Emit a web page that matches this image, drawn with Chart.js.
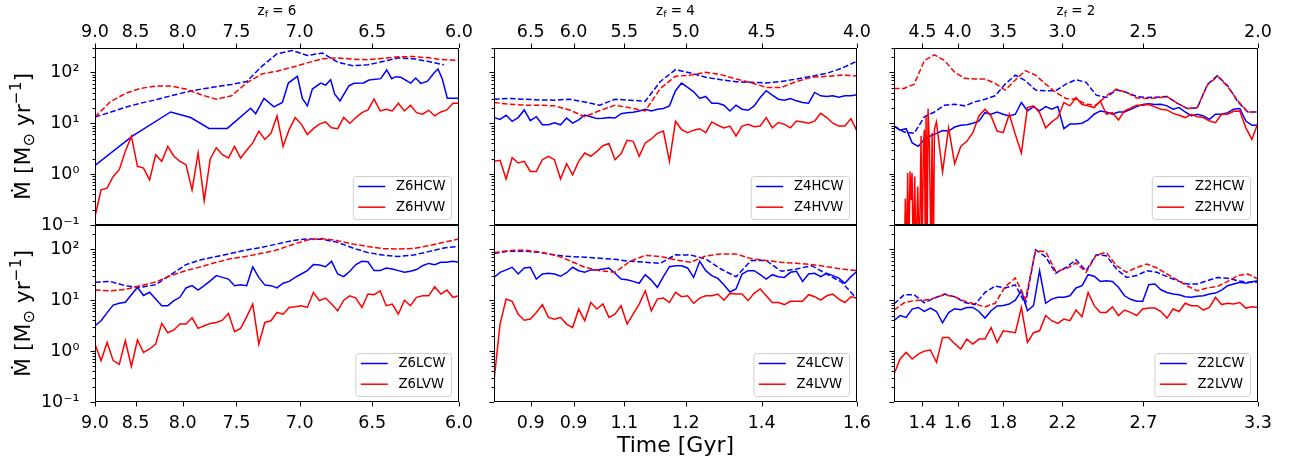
<!DOCTYPE html>
<html>
<head>
<meta charset="utf-8">
<script src="https://cdn.jsdelivr.net/npm/chart.js@4.4.0/dist/chart.umd.min.js"></script>
<style>
  body { margin: 0; background: #fff; }
  #fig { position: relative; width: 1291px; height: 466px; }
  #fig canvas { position: absolute; left: 0; top: 0; }
</style>
</head>
<body>
<div id="fig"></div>
<script>
// ---- axes (time in Gyr, linear; redshift labels on top) ----
const timeRange = [[0.547, 0.933], [0.762, 1.542], [1.172, 3.284]];
const tickTimes = [
  [0.547, 0.590, 0.640, 0.697, 0.764, 0.841, 0.933],
  [0.841, 0.933, 1.042, 1.174, 1.337, 1.542],
  [1.337, 1.542, 1.805, 2.149, 2.619, 3.284]
];
const zLabels = [
  ['9.0', '8.5', '8.0', '7.5', '7.0', '6.5', '6.0'],
  ['6.5', '6.0', '5.5', '5.0', '4.5', '4.0'],
  ['4.5', '4.0', '3.5', '3.0', '2.5', '2.0']
];
const bottomLabels = [
  ['9.0', '8.5', '8.0', '7.5', '7.0', '6.5', '6.0'],
  ['0.9', '0.9', '1.1', '1.2', '1.4', '1.6'],
  ['1.4', '1.6', '1.8', '2.2', '2.7', '3.3']
];
const zForm = ['6', '4', '2'];
const yTicks = [0.1, 1, 10, 100];
const yTickLabels = ['10\u207B\u00B9', '10\u2070', '10\u00B9', '10\u00B2'];

// ---- z_f = 6 ----
const Z6HCW_t = [0.547,0.5866,0.6272,0.6485,0.6679,0.6873,0.7121,0.7174,0.7262,0.7368,0.7457,0.7520,0.7616,0.7669,0.7722,0.7775,0.7863,0.7916,0.7969,0.8012,0.8068,0.8164,0.8217,0.8316,0.8376,0.8500,0.8563,0.8616,0.8659,0.8712,0.8818,0.8871,0.8924,0.8994,0.9065,0.9107,0.9153,0.9206,0.933];
const Z6HCW = [1.48,5.57,16.6,12.9,7.9,7.9,19.7,15.4,30.6,20.9,25.5,61.5,83.4,30.6,21.9,46.8,61.5,56.1,71.6,37.2,27.5,54.5,60.6,61.5,70.5,75,111,75,82,79.6,61.5,77.3,60.6,66.3,97,116,73.8,31,31];
const Z6HVW = [0.145,0.49,0.53,0.9,1.22,2.8,5.5,1.42,1.31,0.77,2.4,1.78,3.5,2.24,1.78,1.53,0.49,2.6,0.3,2.0,3.3,2.4,2.07,3.5,2.07,2.95,4.1,7.0,4.8,6.3,13.9,3.5,7.5,12.9,9.6,6.0,7.8,9.6,10.6,8.1,7.8,12.9,10,12.9,16.1,18.2,29.6,17.4,18.8,17.4,24.7,17.4,22.5,16.1,15,17.9,13.9,16.6,18.2,24.7,24.7];
const Z6HCW_dash = [13.2,16.4,20.6,24.7,28.8,34.5,40.8,46.8,52,57.8,66,131,231,269,214,238,158,135,140,163,192,184,163,140,null];
const Z6HVW_dash = [13.2,26.2,38.4,48.2,53.6,53.6,46.8,36.1,29.6,34.5,62,92.7,105,126,153,184,192,181,177,189,201,204,192,177,170];
const Z6LCW = [3.15,3.95,5.7,8.0,8.7,9.1,12.8,17.9,12.4,14.3,10.5,7.8,7.8,9.8,11.4,17.4,19.3,15.8,19.3,24,30.4,28.1,26,19.3,20.2,19.3,45,28.1,19.8,19.3,17.4,21.5,23.4,28.1,32.7,38.1,50,49.3,45.5,58,32.7,29,37,50,58,57,38.1,38.1,43,41,38.1,35.3,37,40,47.6,52.8,50,55.6,55.6,58,55.6];
const Z6LVW = [1.37,0.65,1.48,0.65,0.55,1.6,0.5,1.65,0.94,1.1,1.37,3.5,2.3,2.6,3.4,3.4,4.5,2.8,3.15,3.5,3.65,4.05,5.5,2.4,2.8,4.7,8.4,1.37,3.65,3.95,5.75,5.3,7.2,7.4,7.8,7.2,14.2,9.8,11,8.4,6.2,10,12.2,11,7.2,13.2,12.8,15.3,7.8,8.4,5.3,10,7.8,11.4,12.2,12.2,18.4,13.2,15.8,11.4,12.2];
const Z6LCW_dash = [22.4,23.4,19.2,17.9,20.2,31.7,50,62.5,72,83.5,97,109,127,148,160,157,137,106,86,77,72,77,90,106,114];
const Z6LVW_dash = [15.8,15.3,16.3,19.3,22.7,30.4,38.1,45.5,55.6,65.6,72.8,83.5,97,123,152,163,148,127,113,103,101,104,118,137,160];

// ---- z_f = 4 ----
const Z4HCW = [12.9,11.9,14.3,10.9,12.9,18.2,11.2,13.4,9.3,9.3,10.2,9.3,12.6,10,11.6,14.5,13.4,12.3,12.5,12.9,12.6,15.4,16.1,16.4,17.4,18.8,17.4,18.8,19.4,21.9,43.4,61.5,50.5,41.4,30.6,33.5,24.7,24.7,22.6,17.4,22.6,18.8,17.9,21.9,32,43.4,35.6,29.6,28.3,30.6,27.5,25.5,24.7,40.2,34.5,33.5,34.5,32.5,34.5,34.5,36.1];
const Z4HVW = [1.78,1.86,0.8,2.1,1.65,1.78,1.13,1.13,1.92,2.24,1.92,0.8,1.6,0.97,1.78,2.6,2.24,2.8,3.6,3.98,1.92,2.5,4.6,4.4,2.24,4.1,4.9,6.3,7.0,1.78,10.9,7.5,6.5,7.3,7.8,6.5,10.6,9.1,8.1,8.8,5.6,8.8,9.5,8.5,8.8,12.9,8.1,10.3,9.5,8.1,11,10.6,10,11,15.6,12.9,10,8.8,8.8,12.3,7.0];
const Z4HCW_dash = [29.6,30.6,29.6,28.7,28.3,29.6,26,22.6,29.6,28.3,27,66,113,97,79.6,71.6,65.3,63.4,61.5,66,73.8,83.4,95.5,120,165];
const Z4HVW_dash = [25.5,23.6,22.6,22.6,21.9,18.2,13.4,17.7,22.6,20,17.4,48.2,83.4,88,100,90,73.8,62.5,50.5,50.5,66,79.6,83.4,88,85];
const Z4LCW = [28,35.3,39.4,44.3,32.7,43,44.3,26,32.7,33.8,32.7,29.5,34.7,44.3,38,35.3,39.4,39.4,41,43,33.8,26,25.3,23.4,21.5,31.7,24.8,17.9,29,45.5,47.5,47.5,43,28,58,38,30.4,26.8,20.2,14.5,16.6,32.7,38,38,31.7,26,31.7,29,28,35.3,37,23.4,32.7,33.8,29,33.8,30.4,27.2,21.5,29,37];
const Z4LVW = [0.26,3.4,10.5,9.5,5.3,4.05,4.25,5.75,8.2,4.6,4.25,4.6,3.4,2.9,6.7,3.95,9,6.7,8.4,4.6,5.3,7.8,3.4,5.3,8.4,15.3,6.2,10.5,11,9,14.2,11.7,12.2,8.7,11,12.2,12.2,13.2,10,13.6,13.2,13.2,9.8,13.6,16.6,12.2,9,9,8.2,9.5,9.5,9.5,12.8,11.7,10,12.2,13.2,10.5,9,11.7,11];
const Z4LCW_dash = [83,92,92,87,77,72,70,66.5,63.5,58,55.6,53,78,77,64.5,41,28.9,60,60,37,41,47.6,32.7,22.4,10.6];
const Z4LVW_dash = [86,94,97,88,78,60,44.3,38,35.3,58,76,72,62,55.6,74,81,81,65.6,60,55.6,53,50,45.5,41,38];

// ---- z_f = 2 ----
const Z2HCW = [8.8,7.3,7.8,4.1,3.5,4.8,5.6,6.3,7.2,7.0,8.4,9.1,9.3,10,11,16.1,15,16.6,15,13.9,15,25.5,17.4,21.2,17.4,21.2,18.8,21.2,7.8,9.6,9.6,10,11.6,15,17.4,16.6,15,16.6,16.6,18.8,21.2,23.3,24,23.3,23.6,21.9,18.8,20.3,16.6,13.9,15,13.9,11.9,15,15,16.1,18.8,19.4,11,9.1,9.1];
const Z2HVW_early_t = [1.2321,1.2379,1.2456,1.2514,1.2573,1.2650,1.2708,1.2766,1.2844,1.2921,1.2999,1.3096,1.3193,1.3289,1.3348,1.3425,1.3483,1.3541,1.3580,1.3638,1.3696,1.3774,1.3871,1.3929,1.4006,1.4064];
const Z2HVW_early = [0.02,0.33,0.02,1.05,0.02,1.13,0.31,1.05,0.02,0.9,0.02,0.57,0.02,5.6,0.02,3.5,7.5,0.02,13.9,0.02,19.4,3.5,0.02,6.5,0.02,7.5];
const Z2HVW = [null,null,null,null,null,null,null,10.6,1.1,8.1,1.6,3.5,4.4,6.5,13.9,18.8,13.9,7.0,6.5,15,6.0,2.6,20.3,21.9,16.1,8.1,10.6,12.9,25.5,21.9,32,23.3,21.9,20.3,27.5,15,16.1,11.6,17.4,19.7,22.6,22.6,23.3,20.9,18.8,18.2,15.6,14.3,12.9,15,13.4,12.9,11,10.2,15,15,17.1,17.4,8.1,4.8,10.2];
const Z2HCW_dash = [8.8,6.7,6.3,13.4,16.6,22.6,23.6,21.9,26.2,29.6,34.5,58.7,88,68.5,44.6,43.4,43.4,58.7,71.6,63.4,35.6,32,45.5,40.2,33.5,32,32.5,33.5,24.7,19.4,20,57.8,86,54.5,26.2,16.6,16.6];
const Z2HVW_dash = [48.2,48.2,58.7,170,220,170,100,76,73.8,73.8,60.6,44.6,70.5,108,88,58.7,40.2,30.6,29.6,23.6,22.6,34.5,46.8,40.2,31.4,30.6,31.4,33.5,24.7,19.4,20.3,56.1,83.4,52.5,27.5,16.6,16.6];
const Z2LCW = [3.95,5,4.6,6.7,7.2,6,7,6,3.6,5.7,6.8,6.5,7.2,7.2,6,4.45,6.2,7.7,7.9,8.4,10,15.3,6.2,7.8,38,8.7,10.5,11.4,11.4,12.2,17.4,19.3,31.7,29.5,23.4,24.2,23.4,17.9,12.2,10.4,9.5,9.5,20.2,20.8,16,14.2,13.2,12.8,11.7,11.4,11.9,12.2,13.2,13.8,15.8,19.3,20.8,22.4,21.5,23,24.2];
const Z2LVW = [0.35,0.7,0.94,0.7,0.87,1.0,1.05,0.6,1.86,1.86,1.4,1.1,1.72,1.37,1.72,1.72,2.9,1.48,2.5,2.4,2.3,7.2,1.48,2.3,2.5,5,3.95,3.5,4.25,3.95,6.4,4.75,14.2,7.8,5.75,5.75,7.4,5,6.4,5.75,5,6.7,7,7,6,4.45,6.7,6,8.7,7.8,7.8,6.4,7.2,11.4,8.2,8.7,8.4,9,7,7.4,7.2];
const Z2LCW_dash = [8.4,12.8,12.8,8.9,11,13.2,11.7,9,8.2,14.2,19,17.4,20,8.4,98,71,33.8,44,62,38,78,75,41,28,30.4,38,35.3,29,24.2,20.8,20.8,24.2,28,27,24.2,22.4,22.4];
const Z2LVW_dash = [6.4,8.9,9.8,10,11,12.8,11.7,9.5,8.4,7.4,8.7,18.4,27.3,10.5,94,90,37,41,54,35.3,77,87,47.6,35.3,44,51.5,43,32.7,25,19,15.3,17.4,18.7,23.4,30.4,32.7,26];

// values sampled evenly across the panel's time range
function onGrid(values, range) {
  const n = values.length, pts = [];
  values.forEach((v, i) => {
    if (v !== null) pts.push({ x: range[0] + (range[1] - range[0]) * i / (n - 1), y: v });
  });
  return pts;
}
function paired(times, values) {
  return times.map((t, i) => ({ x: t, y: values[i] }));
}

const panels = [
  { row: 0, col: 0, names: ['Z6HCW', 'Z6HVW'], cw: paired(Z6HCW_t, Z6HCW), vw: onGrid(Z6HVW, timeRange[0]), cwd: Z6HCW_dash, vwd: Z6HVW_dash },
  { row: 0, col: 1, names: ['Z4HCW', 'Z4HVW'], cw: onGrid(Z4HCW, timeRange[1]), vw: onGrid(Z4HVW, timeRange[1]), cwd: Z4HCW_dash, vwd: Z4HVW_dash },
  { row: 0, col: 2, names: ['Z2HCW', 'Z2HVW'], cw: onGrid(Z2HCW, timeRange[2]), vw: paired(Z2HVW_early_t, Z2HVW_early).concat(onGrid(Z2HVW, timeRange[2])), cwd: Z2HCW_dash, vwd: Z2HVW_dash },
  { row: 1, col: 0, names: ['Z6LCW', 'Z6LVW'], cw: onGrid(Z6LCW, timeRange[0]), vw: onGrid(Z6LVW, timeRange[0]), cwd: Z6LCW_dash, vwd: Z6LVW_dash },
  { row: 1, col: 1, names: ['Z4LCW', 'Z4LVW'], cw: onGrid(Z4LCW, timeRange[1]), vw: onGrid(Z4LVW, timeRange[1]), cwd: Z4LCW_dash, vwd: Z4LVW_dash },
  { row: 1, col: 2, names: ['Z2LCW', 'Z2LVW'], cw: onGrid(Z2LCW, timeRange[2]), vw: onGrid(Z2LVW, timeRange[2]), cwd: Z2LCW_dash, vwd: Z2LVW_dash }
];

// ---- layout ----
const W = 1291, H = 466;
const colLeft = [95, 494, 894], colRight = [459, 857, 1258];
const rowTop = [48, 225], rowBottom = [225, 402];
const BLUE = '#0000ff', RED = '#ff0000';
const FONT = "'DejaVu Sans', sans-serif";
Chart.defaults.font.family = FONT;
Chart.defaults.color = '#000';

function ds(points, color, dashed) {
  return {
    data: points, borderColor: color, borderWidth: 1.5, pointRadius: 0,
    fill: false, tension: 0, borderDash: dashed ? [5.6, 2.4] : []
  };
}

function drawRich(ctx, pieces, x, y, size) {
  let total = 0;
  pieces.forEach(p => { ctx.font = (size * p.s) + 'px ' + FONT; p.w = ctx.measureText(p.t).width; total += p.w; });
  let cx = x - total / 2;
  ctx.textAlign = 'left';
  ctx.textBaseline = 'alphabetic';
  pieces.forEach(p => {
    ctx.font = (size * p.s) + 'px ' + FONT;
    ctx.fillText(p.t, cx, y + (p.dy || 0) * size);
    cx += p.w;
  });
}

function makeFrame(p) {
  return {
    id: 'frameTicks',
    afterDatasetsDraw(chart) {
      const { ctx, chartArea: a, scales } = chart;
      ctx.save();
      ctx.strokeStyle = '#000';
      ctx.lineWidth = 1;
      ctx.setLineDash([]);
      ctx.strokeRect(a.left + 0.5, a.top + 0.5, a.right - a.left - 1, a.bottom - a.top - 1);
      ctx.beginPath();
      for (let e = -1; e <= 2; e++) {
        for (let m = 1; m <= 9; m++) {
          const v = m * Math.pow(10, e);
          if (v > 300.001) break;
          const y = Math.round(scales.y.getPixelForValue(v)) + 0.5;
          const len = m === 1 ? 4.5 : 2.5;
          ctx.moveTo(a.left, y);
          ctx.lineTo(a.left - len, y);
        }
      }
      const xs = p.row === 0 ? scales.xTop : scales.x;
      tickTimes[p.col].forEach(t => {
        const x = Math.round(xs.getPixelForValue(t)) + 0.5;
        if (p.row === 0) { ctx.moveTo(x, a.top); ctx.lineTo(x, a.top - 4.5); }
        else { ctx.moveTo(x, a.bottom); ctx.lineTo(x, a.bottom + 4.5); }
      });
      ctx.stroke();
      ctx.restore();
    }
  };
}

function makeLegend(p) {
  return {
    id: 'mplLegend',
    afterDraw(chart) {
      const { ctx, chartArea: a } = chart;
      const fs = 13.2;
      ctx.save();
      ctx.font = fs + 'px ' + FONT;
      const tw = Math.max(...p.names.map(n => ctx.measureText(n).width));
      const pad = 5.4, handle = 27, gap = 10.8;
      const bw = pad + handle + gap + tw + pad, bh = 43;
      const bx = a.right - 8 - bw, by = a.bottom - 6 - bh;
      ctx.beginPath();
      ctx.roundRect(bx + 0.5, by + 0.5, bw, bh, 3);
      ctx.fillStyle = 'rgba(255,255,255,0.8)';
      ctx.fill();
      ctx.strokeStyle = '#d0d0d0';
      ctx.lineWidth = 1;
      ctx.stroke();
      [BLUE, RED].forEach((c, i) => {
        const cy = by + 10.5 + i * 20.7;
        ctx.beginPath();
        ctx.strokeStyle = c;
        ctx.lineWidth = 1.5;
        ctx.moveTo(bx + pad, cy);
        ctx.lineTo(bx + pad + handle, cy);
        ctx.stroke();
        ctx.fillStyle = '#000';
        ctx.textAlign = 'left';
        ctx.textBaseline = 'middle';
        ctx.fillText(p.names[i], bx + pad + handle + gap, cy + 0.5);
      });
      ctx.restore();
    }
  };
}

const decor = {
  id: 'decor',
  afterDraw(chart) {
    const ctx = chart.ctx;
    ctx.save();
    ctx.fillStyle = '#000';
    for (let c = 0; c < 3; c++) {
      const cx = (colLeft[c] + colRight[c]) / 2;
      drawRich(ctx, [{ t: 'z', s: 1 }, { t: 'f', s: 0.7, dy: 0.22 }, { t: ' = ' + zForm[c], s: 1 }], cx, 14.5, 13.5);
    }
    ctx.font = '22px ' + FONT;
    ctx.textAlign = 'center';
    ctx.textBaseline = 'alphabetic';
    ctx.fillText('Time [Gyr]', (colLeft[1] + colRight[1]) / 2, 452);
    for (let r = 0; r < 2; r++) {
      ctx.save();
      ctx.translate(30, (rowTop[r] + rowBottom[r]) / 2);
      ctx.rotate(-Math.PI / 2);
      drawRich(ctx, [
        { t: '\u1E40 [M', s: 1 }, { t: '\u2299', s: 0.72, dy: 0.2 },
        { t: ' yr', s: 1 }, { t: '\u22121', s: 0.7, dy: -0.42 }, { t: ']', s: 1 }
      ], 0, 0, 22);
      ctx.restore();
    }
    ctx.restore();
  }
};

const fig = document.getElementById('fig');
panels.forEach((p, idx) => {
  const cv = document.createElement('canvas');
  cv.width = W; cv.height = H;
  cv.style.width = W + 'px'; cv.style.height = H + 'px';
  fig.appendChild(cv);
  const range = timeRange[p.col];
  const tickFont = { size: 17.5 };
  // the scale boxes get fixed sizes so the plot area lands on the panel rectangle
  const yBox = p.col === 0 ? colLeft[0] : 0;
  const topBox = p.row === 0 ? rowTop[0] : 0;
  const bottomBox = p.row === 1 ? H - rowBottom[1] : 0;
  new Chart(cv, {
    type: 'line',
    data: {
      datasets: [
        ds(onGrid(p.vwd, range), RED, true),
        ds(p.vw, RED, false),
        ds(onGrid(p.cwd, range), BLUE, true),
        ds(p.cw, BLUE, false)
      ]
    },
    options: {
      responsive: false, animation: false, devicePixelRatio: 1,
      layout: {
        autoPadding: false,
        padding: {
          left: colLeft[p.col] - yBox,
          right: W - colRight[p.col],
          top: rowTop[p.row] - topBox,
          bottom: H - rowBottom[p.row] - bottomBox
        }
      },
      plugins: { legend: { display: false }, tooltip: { enabled: false } },
      scales: {
        x: {
          type: 'linear', position: 'bottom', min: range[0], max: range[1],
          display: p.row === 1,
          grid: { display: false }, border: { display: false },
          afterFit: s => { s.height = bottomBox; },
          afterBuildTicks: s => { s.ticks = tickTimes[p.col].map(v => ({ value: v })); },
          ticks: { autoSkip: false, maxRotation: 0, padding: 3, font: tickFont, color: '#000',
                   callback: (v, i) => bottomLabels[p.col][i] }
        },
        xTop: {
          type: 'linear', position: 'top', min: range[0], max: range[1],
          display: p.row === 0,
          grid: { display: false }, border: { display: false },
          afterFit: s => { s.height = topBox; },
          afterBuildTicks: s => { s.ticks = tickTimes[p.col].map(v => ({ value: v })); },
          ticks: { autoSkip: false, maxRotation: 0, padding: -2.5, font: tickFont, color: '#000',
                   callback: (v, i) => zLabels[p.col][i] }
        },
        y: {
          type: 'logarithmic', min: 0.1, max: 300,
          grid: { display: false }, border: { display: false },
          afterFit: s => { s.width = yBox; },
          afterBuildTicks: s => { s.ticks = yTicks.map(v => ({ value: v })); },
          ticks: { display: p.col === 0, padding: 7.5, font: tickFont, color: '#000',
                   callback: (v, i) => yTickLabels[i] }
        }
      }
    },
    plugins: [makeFrame(p), makeLegend(p)].concat(idx === 0 ? [decor] : [])
  });
});
</script>
</body>
</html>
